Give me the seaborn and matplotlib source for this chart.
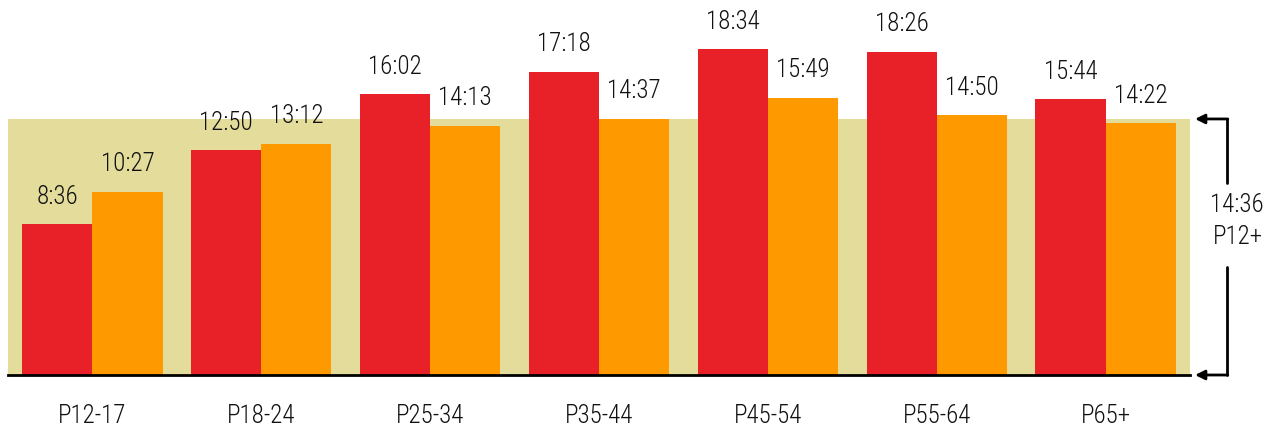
import seaborn as sns
import matplotlib.pyplot as plt
import pandas as pd

groups = ["P12-17", "P18-24", "P25-34", "P35-44", "P45-54", "P55-64", "P65+"]
red_labels = ["8:36", "12:50", "16:02", "17:18", "18:34", "18:26", "15:44"]
orange_labels = ["10:27", "13:12", "14:13", "14:37", "15:49", "14:50", "14:22"]
avg_label = "14:36"
avg_group = "P12+"


def to_sec(s):
    m, sec = s.split(":")
    return int(m) * 60 + int(sec)


red_sec = [to_sec(v) for v in red_labels]
orange_sec = [to_sec(v) for v in orange_labels]
avg_sec = to_sec(avg_label)

sns.set_style("white")
plt.rcParams['font.family'] = ['Roboto Condensed', 'DejaVu Sans']
plt.rcParams['font.weight'] = 'light'

data = pd.DataFrame({
    'group': groups * 2,
    'series': ['a'] * len(groups) + ['b'] * len(groups),
    'seconds': red_sec + orange_sec,
})

fig = plt.figure(figsize=(12.64, 4.28), dpi=100)
ax = fig.add_axes([8 / 1264, 53 / 428, 1182 / 1264, 375 / 428])

# background band up to the P12+ average
ax.axhspan(0, avg_sec, xmin=0, xmax=1, color="#E3DC9B", zorder=0, lw=0)

sns.barplot(data=data, x='group', y='seconds', hue='series',
            palette=["#E82028", "#FF9900"], width=0.83, gap=0,
            saturation=1, legend=False, ax=ax, zorder=2, linewidth=0)

for cont, labs in zip(ax.containers, [red_labels, orange_labels]):
    ax.bar_label(cont, labels=labs, padding=11, fontsize=18, color="#111111")

ax.set_xlim(-0.5, 6.5)
ax.set_ylim(0, 1283)
ax.set_xlabel('')
ax.set_ylabel('')
ax.set_yticks([])
ax.tick_params(axis='x', length=0, labelsize=18, pad=21, labelcolor="#111111")
for side in ['top', 'right', 'left']:
    ax.spines[side].set_visible(False)
ax.spines['bottom'].set_linewidth(2)
ax.spines['bottom'].set_color('black')

# right-hand bracket for the average
xl = 6.718
ax.plot([xl, xl], [avg_sec, 657], color='black', lw=2, clip_on=False)
ax.plot([xl, xl], [370, 0], color='black', lw=2, clip_on=False)
for yv in [avg_sec, 0]:
    ax.annotate('', xy=(6.53, yv), xytext=(xl + 0.006, yv),
                arrowprops=dict(arrowstyle='-|>', color='black', lw=2,
                                mutation_scale=14, shrinkA=0, shrinkB=0),
                annotation_clip=False)
ax.text(6.775, 582, avg_label, ha='center', va='center', fontsize=18, color="#111111", clip_on=False)
ax.text(6.785, 472, avg_group, ha='center', va='center', fontsize=18, color="#111111", clip_on=False)

plt.savefig('out.png', dpi=100)
